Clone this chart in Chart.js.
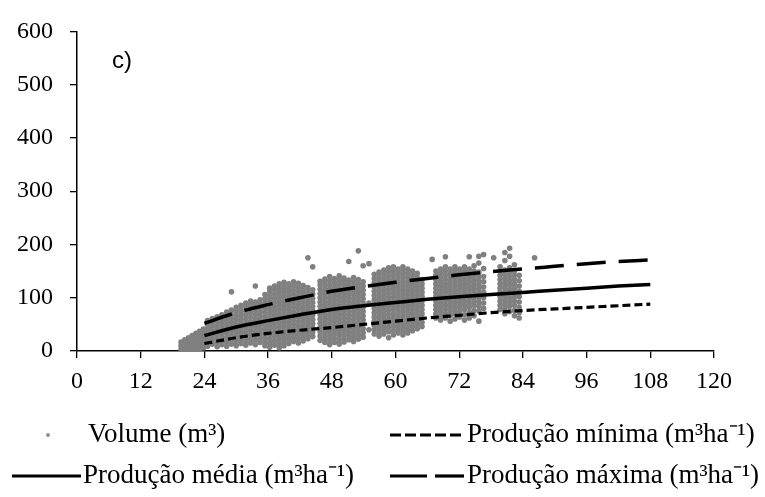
<!DOCTYPE html>
<html>
<head>
<meta charset="utf-8">
<script src="https://cdn.jsdelivr.net/npm/chart.js@4.4.1/dist/chart.umd.min.js"></script>
<style>
  html, body { margin: 0; padding: 0; background: #ffffff; }
  #wrap { position: relative; width: 765px; height: 497px; }
  canvas { display: block; }
</style>
</head>
<body>
<div id="wrap"><canvas id="c" width="765" height="497"></canvas></div>
<script>
// ---- Data ----
const xTickLabels = [0, 12, 24, 36, 48, 60, 72, 84, 96, 108, 120];
const yTickLabels = [0, 100, 200, 300, 400, 500, 600];

// Fitted production curves (age in months vs m3/ha)
const lineAges   = [24, 30, 36, 42, 48, 54, 60, 66, 72, 78, 84, 90, 96, 102, 108];
const prodMinima = [14, 25, 33, 39, 44, 50, 56, 62, 67, 72, 76, 79, 82, 85, 88];
const prodMedia  = [29, 45, 57, 68, 78, 85, 91, 97, 102, 106, 110, 114, 118, 122, 125];
const prodMaxima = [52, 72, 87, 100, 112, 121, 129, 136, 143, 149, 154, 159, 164, 168, 171];

// Observed volumes, grouped by age column
const scatterAges = [
  19.6, 20.3, 21.0, 21.7, 22.4, 23.1, 23.8,
  24.6, 25.5, 26.4, 27.3, 28.2, 29.1, 30.0, 30.9, 31.8, 32.7, 33.6, 34.5, 35.4,
  36.3, 37.2, 38.1, 39.0, 39.9, 40.8, 41.7, 42.6, 43.5, 44.4,
  45.8, 46.7, 47.6, 48.5, 49.4, 50.3, 51.2, 52.1, 53.0, 53.9, 55.0,
  56.0, 56.9, 57.8, 58.7, 59.6, 60.5, 61.4, 62.3, 63.2, 64.1, 65.0, 66.9,
  67.6, 68.5, 69.4, 70.3, 71.2, 72.1, 73.0, 73.9, 74.8, 75.7, 76.6, 78.5,
  79.7, 80.6, 81.5, 82.4, 83.3, 86.2
];
const scatterVolumes = [
  [3, 10, 17],
  [1, 7, 14, 21],
  [4, 11, 18, 25],
  [2, 8, 15, 22, 29],
  [5, 12, 19, 26, 33],
  [3, 9, 16, 23, 30, 37],
  [6, 13, 20, 27, 34, 41],

  [9, 17, 25, 33, 41, 49, 57],
  [13, 21, 29, 37, 45, 53, 61],
  [8, 16, 24, 32, 40, 48, 56, 64],
  [12, 20, 28, 36, 44, 52, 60, 68],
  [9, 17, 25, 33, 41, 49, 57, 65, 73],
  [13, 21, 29, 37, 45, 53, 61, 69, 77, 111],
  [10, 18, 26, 34, 42, 50, 58, 66, 74, 82],
  [14, 22, 30, 38, 46, 54, 62, 70, 78, 86],
  [11, 19, 27, 35, 43, 51, 59, 67, 75, 83, 90],
  [15, 23, 31, 39, 47, 55, 63, 71, 79, 87, 94],
  [12, 20, 28, 36, 44, 52, 60, 68, 76, 84, 92, 122],
  [16, 24, 32, 40, 48, 56, 64, 72, 80, 88, 96],
  [10, 18, 26, 34, 42, 50, 58, 66, 74, 82, 90, 98, 106],

  [7, 15, 23, 31, 39, 47, 55, 63, 71, 79, 87, 95, 103, 111, 118],
  [11, 19, 27, 35, 43, 51, 59, 67, 75, 83, 91, 99, 107, 115, 122],
  [6, 14, 22, 30, 38, 46, 54, 62, 70, 78, 86, 94, 102, 110, 118, 126],
  [10, 18, 26, 34, 42, 50, 58, 66, 74, 82, 90, 98, 106, 114, 122, 129],
  [14, 22, 30, 38, 46, 54, 62, 70, 78, 86, 94, 102, 110, 118, 126],
  [18, 26, 34, 42, 50, 58, 66, 74, 82, 90, 98, 106, 114, 122, 130],
  [15, 23, 31, 39, 47, 55, 63, 71, 79, 87, 95, 103, 111, 119, 127],
  [19, 27, 35, 43, 51, 59, 67, 75, 83, 91, 99, 107, 115, 123],
  [23, 31, 39, 47, 55, 63, 71, 79, 87, 95, 103, 111, 119, 175],
  [27, 35, 43, 51, 59, 67, 75, 83, 91, 99, 107, 115, 158],

  [20, 28, 36, 44, 52, 60, 68, 76, 84, 92, 100, 108, 116, 124, 131],
  [16, 24, 32, 40, 48, 56, 64, 72, 80, 88, 96, 104, 112, 120, 128, 135],
  [12, 20, 28, 36, 44, 52, 60, 68, 76, 84, 92, 100, 108, 116, 124, 132, 140],
  [16, 24, 32, 40, 48, 56, 64, 72, 80, 88, 96, 104, 112, 120, 128, 136],
  [13, 21, 29, 37, 45, 53, 61, 69, 77, 85, 93, 101, 109, 117, 125, 133, 141],
  [17, 25, 33, 41, 49, 57, 65, 73, 81, 89, 97, 105, 113, 121, 129, 137],
  [21, 29, 37, 45, 53, 61, 69, 77, 85, 93, 101, 109, 117, 125, 133, 168],
  [18, 26, 34, 42, 50, 58, 66, 74, 82, 90, 98, 106, 114, 122, 130, 138],
  [22, 30, 38, 46, 54, 62, 70, 78, 86, 94, 102, 110, 118, 126, 134, 188],
  [26, 34, 42, 50, 58, 66, 74, 82, 90, 98, 106, 114, 122, 130, 160],
  [40, 90, 164],

  [32, 40, 48, 56, 64, 72, 80, 88, 96, 104, 112, 120, 128, 136, 144],
  [28, 36, 44, 52, 60, 68, 76, 84, 92, 100, 108, 116, 124, 132, 140, 148],
  [32, 40, 48, 56, 64, 72, 80, 88, 96, 104, 112, 120, 128, 136, 144, 152],
  [25, 36, 44, 52, 60, 68, 76, 84, 92, 100, 108, 116, 124, 132, 140, 148, 156],
  [30, 38, 46, 54, 62, 70, 78, 86, 94, 102, 110, 118, 126, 134, 142, 150, 158],
  [34, 42, 50, 58, 66, 74, 82, 90, 98, 106, 114, 122, 130, 138, 146, 154],
  [30, 38, 46, 54, 62, 70, 78, 86, 94, 102, 110, 118, 126, 134, 142, 150, 158],
  [34, 42, 50, 58, 66, 74, 82, 90, 98, 106, 114, 122, 130, 138, 146, 154],
  [38, 46, 54, 62, 70, 78, 86, 94, 102, 110, 118, 126, 134, 142, 150],
  [42, 50, 58, 66, 74, 82, 90, 98, 106, 114, 122, 130, 138, 146],
  [46, 54, 62, 70, 78, 86, 94, 102, 110, 118, 126, 134],
  [172],

  [62, 70, 78, 86, 94, 102, 110, 118, 126, 134, 142, 150],
  [58, 66, 74, 82, 90, 98, 106, 114, 122, 130, 138, 146, 154],
  [62, 70, 78, 86, 94, 102, 110, 118, 126, 134, 142, 150, 158, 177],
  [56, 66, 74, 82, 90, 98, 106, 114, 122, 130, 138, 146, 154],
  [60, 70, 78, 86, 94, 102, 110, 118, 126, 134, 142, 150, 158],
  [64, 74, 82, 90, 98, 106, 114, 122, 130, 138, 146, 154],
  [58, 68, 78, 86, 94, 102, 110, 118, 126, 134, 142, 150, 158],
  [62, 72, 82, 90, 98, 106, 114, 122, 130, 138, 146, 154, 177],
  [66, 76, 86, 94, 102, 110, 118, 126, 134, 142, 150, 160],
  [56, 75, 84, 92, 100, 108, 116, 124, 132, 140, 148, 165, 178],
  [80, 90, 100, 110, 120, 130, 140, 155, 181],
  [175],

  [78, 86, 94, 102, 110, 118, 126, 134, 142, 150, 158],
  [70, 80, 88, 96, 104, 112, 120, 128, 136, 144, 152, 170, 185],
  [74, 84, 92, 100, 108, 116, 124, 132, 140, 148, 156, 178, 193],
  [66, 76, 86, 94, 102, 110, 118, 126, 134, 142, 150, 162],
  [62, 72, 82, 92, 102, 112, 122, 132, 142],
  [175]
];

const seriesNames = [
  'Volume (m³)',
  'Produção mínima (m³ha⁻¹)',
  'Produção média (m³ha⁻¹)',
  'Produção máxima (m³ha⁻¹)'
];
const panelLabel = 'c)';

// ---- Build datasets ----
const scatterPoints = [];
scatterAges.forEach((age, i) => {
  scatterVolumes[i].forEach(v => scatterPoints.push({ x: age, y: v }));
});
const toXY = arr => lineAges.map((a, i) => ({ x: a, y: arr[i] }));

const SERIF = '"Liberation Serif", "Times New Roman", serif';

const legendPlugin = {
  id: 'customLegend',
  afterDraw(chart) {
    const ctx = chart.ctx;
    ctx.save();
    // panel label
    ctx.fillStyle = '#000';
    ctx.font = '24px "Liberation Sans", Arial, sans-serif';
    ctx.textBaseline = 'middle';
    ctx.textAlign = 'left';
    ctx.fillText(panelLabel, 112, 61);

    ctx.font = '27px ' + SERIF;
    const row1 = 435, row2 = 476;
    // Volume marker
    ctx.fillStyle = '#909090';
    ctx.beginPath();
    ctx.arc(48, row1, 2, 0, Math.PI * 2);
    ctx.fill();
    ctx.fillStyle = '#000';
    ctx.fillText(seriesNames[0], 88, row1);

    // minima sample
    ctx.strokeStyle = '#000';
    ctx.lineWidth = 3.2;
    ctx.setLineDash([11, 4]);
    ctx.beginPath(); ctx.moveTo(390, row1); ctx.lineTo(464, row1); ctx.stroke();
    ctx.fillText(seriesNames[1], 467, row1);

    // media sample
    ctx.setLineDash([]);
    ctx.beginPath(); ctx.moveTo(12, row2); ctx.lineTo(81, row2); ctx.stroke();
    ctx.fillText(seriesNames[2], 83, row2);

    // maxima sample
    ctx.beginPath(); ctx.moveTo(390, row2); ctx.lineTo(427, row2); ctx.stroke();
    ctx.beginPath(); ctx.moveTo(435, row2); ctx.lineTo(464, row2); ctx.stroke();
    ctx.fillText(seriesNames[3], 467, row2);
    ctx.restore();
  }
};

new Chart(document.getElementById('c'), {
  type: 'scatter',
  data: {
    datasets: [
      {
        label: seriesNames[0],
        data: scatterPoints,
        backgroundColor: '#808080',
        borderWidth: 0,
        pointRadius: 2.8,
        order: 10
      },
      {
        type: 'line',
        label: seriesNames[1],
        data: toXY(prodMinima),
        borderColor: '#000',
        borderWidth: 3.2,
        borderDash: [8, 4],
        pointRadius: 0,
        fill: false,
        cubicInterpolationMode: 'monotone',
        order: 1
      },
      {
        type: 'line',
        label: seriesNames[2],
        data: toXY(prodMedia),
        borderColor: '#000',
        borderWidth: 3.5,
        pointRadius: 0,
        fill: false,
        cubicInterpolationMode: 'monotone',
        order: 1
      },
      {
        type: 'line',
        label: seriesNames[3],
        data: toXY(prodMaxima),
        borderColor: '#000',
        borderWidth: 3.5,
        borderDash: [29, 13],
        pointRadius: 0,
        fill: false,
        cubicInterpolationMode: 'monotone',
        order: 1
      }
    ]
  },
  options: {
    responsive: false,
    animation: false,
    events: [],
    layout: { padding: { top: 22, right: 51, bottom: 106, left: 0 } },
    plugins: { legend: { display: false }, tooltip: { enabled: false } },
    scales: {
      x: {
        type: 'linear',
        min: 0, max: 120,
        afterBuildTicks: s => { s.ticks = xTickLabels.map(v => ({ value: v })); },
        afterFit: s => { s.height = 40; },
        grid: { display: true, drawOnChartArea: false, drawTicks: true, tickLength: 7, color: '#000', lineWidth: 1.3 },
        border: { display: true, color: '#000', width: 1.5 },
        ticks: { color: '#000', font: { family: SERIF, size: 24 }, padding: 9, maxRotation: 0, autoSkip: false }
      },
      y: {
        type: 'linear',
        min: 0, max: 600,
        afterBuildTicks: s => { s.ticks = yTickLabels.map(v => ({ value: v })); },
        afterFit: s => { s.width = 77; },
        grid: { display: true, drawOnChartArea: false, drawTicks: true, tickLength: 7, color: '#000', lineWidth: 1.3 },
        border: { display: true, color: '#000', width: 1.5 },
        ticks: { color: '#000', font: { family: SERIF, size: 24 }, padding: 17 }
      }
    }
  },
  plugins: [legendPlugin]
});
</script>
</body>
</html>
